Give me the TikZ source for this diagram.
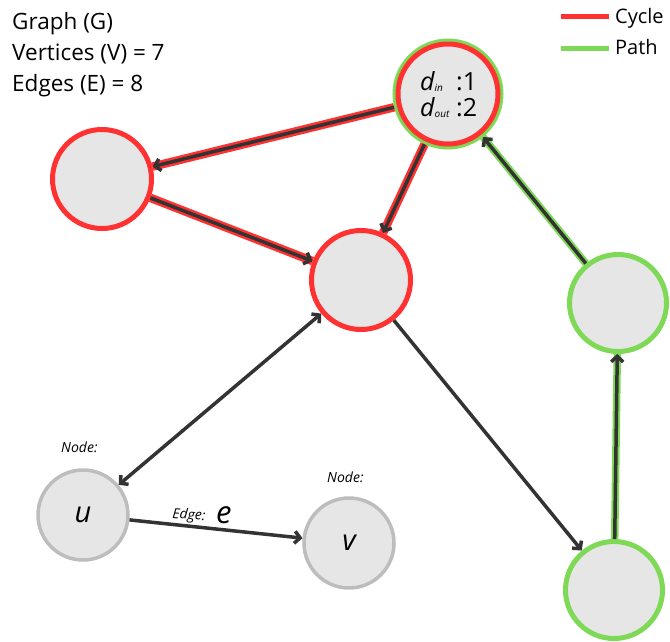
\documentclass[tikz,border=0pt]{standalone}
\usepackage{fontspec}
\setmainfont{Open Sans}
\usetikzlibrary{arrows.meta}
\definecolor{cred}{HTML}{FF3131}
\definecolor{cgreen}{HTML}{7ED957}
\definecolor{cfill}{HTML}{E6E6E6}
\definecolor{cgray}{HTML}{BDBDBD}
\definecolor{cedge}{HTML}{333333}
\tikzset{
  vtx/.style={circle, fill=cfill, inner sep=0pt},
  redv/.style={vtx, draw=cred, line width=5pt, minimum size=99pt},
  greenv/.style={vtx, draw=cgreen, line width=5pt, minimum size=97pt},
  bothv/.style={vtx, draw=cred, line width=5pt, minimum size=100pt,
     preaction={draw=cgreen, line width=11pt}, outer sep=5.5pt},
  grayv/.style={vtx, draw=cgray, line width=3.5pt, minimum size=90pt},
  tip/.tip={Straight Barb[length=5.5pt,width=12pt,line width=3.5pt]},
  arr/.style={draw=cedge, line width=3.5pt, -tip},
  redunder/.style={draw=cred, line width=8.5pt},
  greenunder/.style={draw=cgreen, line width=7.5pt},
  lbl/.style={font=\fontsize{22.5}{22.5}\selectfont, anchor=base west, inner sep=0pt},
  leg/.style={font=\fontsize{20}{20}\selectfont, anchor=base west, inner sep=0pt},
  small/.style={font=\fontsize{14}{14}\selectfont\itshape, anchor=base west, inner sep=0pt},
}
\begin{document}
\begin{tikzpicture}[x=1pt,y=-1pt]
\useasboundingbox (0,0) rectangle (670,641);
% nodes
\node[bothv] (T) at (448,94) {};
\node[redv] (L) at (102,179) {};
\node[redv] (M) at (361,280) {};
\node[greenv] (R) at (618,303) {};
\node[greenv] (B) at (614,590) {};
\node[grayv] (u) at (83,515) {};
\node[grayv] (v) at (349,543) {};
% text in nodes
\node[anchor=base west, inner sep=0pt, font=\fontsize{25}{25}\selectfont\itshape] (din) at (420,90) {d\raisebox{-1pt}{\fontsize{10}{10}\selectfont in}};
\node[anchor=base west, inner sep=0pt, font=\fontsize{25}{25}\selectfont] (din1) at (456,90) {:1};
\node[anchor=base west, inner sep=0pt, font=\fontsize{25}{25}\selectfont\itshape] (dout) at (420,116) {d\raisebox{-1pt}{\fontsize{10}{10}\selectfont out}};
\node[anchor=base west, inner sep=0pt, font=\fontsize{25}{25}\selectfont] (dout1) at (456,116) {:2};
\node[font=\fontsize{29}{29}\selectfont\itshape] (ul) at (u) {u};
\node[font=\fontsize{29}{29}\selectfont\itshape] (vl) at (v) {v};
% underlays
\path[redunder] (T) -- (L);
\path[redunder] (L) -- (M);
\path[redunder] (T) -- (M);
\path[greenunder] (R) -- (T);
\path[greenunder] (B) -- (R);
% edges
\draw[arr] (T) -- (L);
\draw[arr] (L) -- (M);
\draw[arr] (T) -- (M);
\draw[arr] (R) -- (T);
\draw[arr] (B) -- (R);
\draw[arr] (M) -- (B);
\draw[arr, tip-tip] (M) -- (u);
\draw[arr] (u) -- (v);
% labels
\node[small] (nu) at (61,452) {Node:};
\node[small] (nv) at (327,482) {Node:};
\node[small, rotate=-4] (el) at (172,518) {Edge:};
\node[anchor=base west, inner sep=0pt, font=\fontsize{31}{31}\selectfont\itshape] (ee) at (216,523) {e};
% title
\node[lbl] (t1) at (12,29) {Graph (G)};
\node[lbl] (t2) at (12,60) {Vertices (V) = 7};
\node[lbl] (t3) at (12,91) {Edges (E) = 8};
% legend
\coordinate (c1a) at (561,16);
\coordinate (c1b) at (609,16);
\coordinate (c2a) at (561,48);
\coordinate (c2b) at (609,48);
\draw[cred, line width=5pt] (c1a) -- (c1b);
\draw[cgreen, line width=5pt] (c2a) -- (c2b);
\node[leg] (lc) at (615,23) {Cycle};
\node[leg] (lp) at (615,54) {Path};
\end{tikzpicture}
\end{document}
